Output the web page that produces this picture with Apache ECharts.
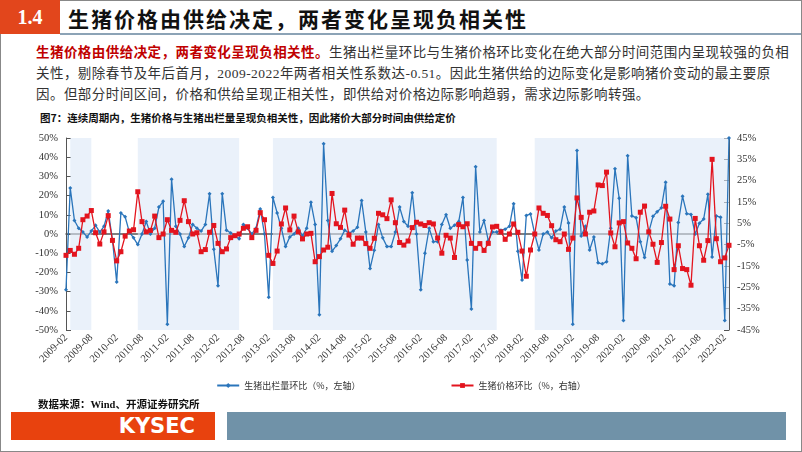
<!DOCTYPE html>
<html>
<head>
<meta charset="utf-8">
<script src="https://cdn.jsdelivr.net/npm/echarts@6/dist/echarts.min.js"></script>
<style>
  body { margin: 0; width: 802px; height: 452px; position: relative; overflow: hidden; background: #fff;
         font-family: "Liberation Serif", "Noto Sans CJK SC", serif; }
  .frame { position: absolute; left: 0; top: 0; width: 800px; height: 450px; border: 1px solid #888; }
  .num { position: absolute; left: 0; top: 0; width: 60px; height: 34px; background: #e2461c; color: #fff;
         font-size: 20px; font-weight: bold; line-height: 34px; text-align: center; }
  .title { position: absolute; left: 68px; top: 0; height: 34px; line-height: 36px; font-size: 21px;
           letter-spacing: 2px; font-weight: bold; color: #111; font-family: "Noto Sans CJK SC", sans-serif; }
  .rule { position: absolute; left: 60px; top: 33px; width: 741px; height: 2px; background: #8ca3b6; }
  .para { position: absolute; left: 36px; top: 42px; width: 760px; font-size: 13.5px; letter-spacing: 0.45px;
          line-height: 21px; color: #333; font-family: "Liberation Serif", "Noto Sans CJK SC", serif; }
  .para b { color: #c00000; }
  .cap { position: absolute; left: 40px; top: 110px; font-size: 10.5px; font-weight: bold; color: #111;
         font-family: "Noto Sans CJK SC", sans-serif; }
  .src { position: absolute; left: 38px; top: 396px; font-size: 10.5px; font-weight: bold; color: #111;
         font-family: "Liberation Serif", "Noto Sans CJK SC", serif; }
  .logo { position: absolute; left: 11px; top: 412px; width: 204px; height: 28px; background: #e8420e; color: #fff;
          font-family: "DejaVu Sans", sans-serif; font-weight: bold; font-size: 21px; line-height: 28px;
          text-align: right; }
  .logo span { margin-right: 20px; }
  .bar { position: absolute; left: 227px; top: 412px; width: 559px; height: 28px; background: #7092a8; }
  #chart { position: absolute; left: 0; top: 0; width: 802px; height: 452px; }
</style>
</head>
<body>
<div class="frame"></div>
<div class="num">1.4</div>
<div class="title">生猪价格由供给决定，两者变化呈现负相关性</div>
<div class="rule"></div>
<div class="para"><b>生猪价格由供给决定，两者变化呈现负相关性。</b>生猪出栏量环比与生猪价格环比变化在绝大部分时间范围内呈现较强的负相关性，剔除春节及年后首月，2009-2022年两者相关性系数达-0.51。因此生猪供给的边际变化是影响猪价变动的最主要原因。但部分时间区间，价格和供给呈现正相关性，即供给对价格边际影响趋弱，需求边际影响转强。</div>
<div class="cap">图7：连续周期内，生猪价格与生猪出栏量呈现负相关性，因此猪价大部分时间由供给定价</div>
<div id="chart"></div>
<div class="src">数据来源：Wind、开源证券研究所</div>
<div class="logo"><span>KYSEC</span></div>
<div class="bar"></div>
<script>
// 月份 2009-02 ~ 2022-03
const months = [];
for (let y = 2009, m = 2; y < 2022 || (y === 2022 && m <= 3); m++) {
  if (m > 12) { m = 1; y++; }
  months.push(y + '-' + String(m).padStart(2, '0'));
}

// 生猪出栏量环比（%，左轴）
const supplyMoM = [
  -29, 24, 7, 3, 1, -1.5, 1.5, 4.5, 1, 4, 12, -3, -25, 11, 9, 1, -2, -5.5, 0, 6.5,
  0, 3, 14, 17, -47, 28.5, 4, 0, -6.5, -2, 5, 3, 1.5, 5, 21, -8, -27, 21, 2, 0.5,
  -1, -2.5,
  5, 3, 0, 3, 13, 0, -33, 19, 11, 3, -6.5, -1.5, 0, 3, -1, 3, 16.5, 5, -42, 47,
  7, -9, -6, -2.5, 2, 0.5, 1.5, 3.5, 17.5, 1, -18, -8.5, 5, -2, -6.5, -6.5, 1, 14,
  6.5, 4, 21.5, 0, -29, -10, 3, -4, -4, 5, 10, 3, 4.5, 6.5, 19, -13.5, -39, 35, 1, 7, -3.5,
  1, 1, 2, 2.5, 4, 15.8, -9, -24, 9.7, 10.4, 0, -8.3, 0, 1, -2, 1.5, 2.5, 14, 5.7, -47,
  43.5, -1, 4, -8.3, -1.5, -15, -15.5, -14.5, 3, 34, 18.6, -45, 40.8, 9.4, 8.5, -4, -12.3, 1, 9.2, 11.6,
  13.7, 27, -26, -27, 6, 19.6, 10.6, 10.2, 0, 5.6, 7.8, 20.7, -12, 9.4, 8.7, -45, 50
];

// 生猪价格环比（%，右轴）
const priceMoM = [
  -10, -7.7, -9.5, -6.7, 6.7, 8.4, 11, 0.6, -4.7, 1, 8.6, -3, -12.6, -8.3, -1, 1.4, 2, 19.8, 5.8, 1,
  1.7, 8.4, -1.7, 0, 6.7, 1.7, 0.8, 6.4, 15.6, 5.8, 0, 0.6, -8.3, -7.3, 0.8, 4, -4.4, -8.3, -7, -1.7,
  -0.8, 0,
  2.7, 3.4, -1.7, 1.7, 10, 6.7, -10, -13.8, -8, 4.7, 12.2, 1.9, 8.4, 1, -2.3, 0, 0.3, -13, -10.6, -7.5,
  -6.2, 19, 4.8, 3.1, 11.2, -0.5, -4.8, -1.9, -1.9, -4.5, -6.7, -2, 9.7, 9, 7.2, 16, 5.3, -4, -5.2, -3.3,
  3, 5.5, 4.7, 4, 5.3, 4.7, -1.9, -9, -0.6, -1.9, -11, 4.4, 3.4, 4.8, -4.4, -6.7, -4.5, -7.7, -4.4,
  3.3, 3.6, 1, -2.5, 0, 4.7, 0.8, -8, -19.8, -7.5, 0, 12.2, 9.7, 8.7, 3.9, -2.7, -3.6, 0, -7.2, -1.9,
  16.9, 7.8, 0, 10.2, 10.8, 23, 22.7, 29, 0.5, -6, 5.2, 5.8, -4.2, -6.7, -11.6, 10.2, 13.1, 1, -4.8, -13.3,
  -4, 13, 7, -16.7, -5.5, -16.2, -16.7, -24, 7.3, -5.5, -12.3, -3.1, 35, -2.2, -13, -11.2, -5.3
];

// 阴影区间（负相关周期）
const bands = [['2009-03', '2009-08'], ['2010-07', '2012-07'], ['2013-03', '2017-08'], ['2018-05', '2022-03']];

const chart = echarts.init(document.getElementById('chart'));
const axisFont = { fontFamily: 'Liberation Serif', fontSize: 10.5, color: '#333' };
chart.setOption({
  animation: false,
  grid: { left: 66, right: 73, top: 138, bottom: 122 },
  legend: {
    top: 376, left: 'center', itemGap: 90, itemWidth: 22, itemHeight: 6,
    textStyle: { fontFamily: 'Noto Sans CJK SC', fontSize: 9, color: '#333' }
  },
  xAxis: {
    type: 'category', data: months, boundaryGap: false,
    axisLine: { onZero: true, lineStyle: { color: '#555', width: 1.5 } },
    axisTick: { show: false },
    axisLabel: Object.assign({ interval: 5, rotate: 45, margin: 6 }, axisFont),
    splitLine: { show: false }
  },
  yAxis: [
    {
      type: 'value', min: -50, max: 50, interval: 10,
      axisLine: { show: true, lineStyle: { color: '#555' } },
      axisTick: { show: true, inside: true, lineStyle: { color: '#555' } },
      axisLabel: Object.assign({ formatter: '{value}%' }, axisFont),
      splitLine: { show: false }
    },
    {
      type: 'value', min: -45, max: 45, interval: 10,
      axisLine: { show: true, lineStyle: { color: '#555' } },
      axisTick: { show: true, inside: true, lineStyle: { color: '#555' } },
      axisLabel: Object.assign({ formatter: '{value}%' }, axisFont),
      splitLine: { show: false }
    }
  ],
  series: [
    {
      name: '生猪出栏量环比（%，左轴）', type: 'line', yAxisIndex: 0, data: supplyMoM,
      symbol: 'diamond', symbolSize: 4, showAllSymbol: true, color: '#2a75bb', lineStyle: { width: 1.3 },
      markArea: {
        silent: true, itemStyle: { color: 'rgba(220,232,246,0.6)' },
        data: bands.map(b => [{ xAxis: b[0] }, { xAxis: b[1] }])
      },
      z: 2
    },
    {
      name: '生猪价格环比（%，右轴）', type: 'line', yAxisIndex: 1, data: priceMoM,
      symbol: 'rect', symbolSize: 5, showAllSymbol: true, color: '#e3141e', lineStyle: { width: 1.3 }, z: 3
    }
  ]
});
</script>
</body>
</html>
